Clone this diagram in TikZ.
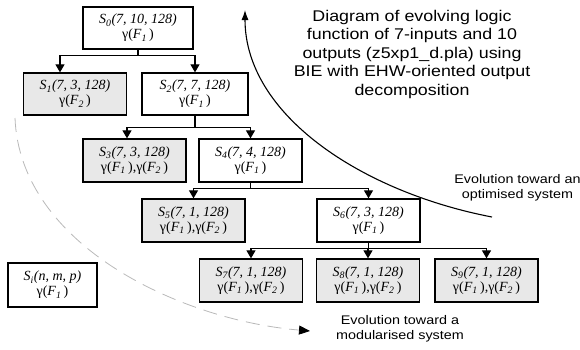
\documentclass[tikz,border=0pt]{standalone}
\usepackage{fontspec}
\setmainfont{Liberation Serif}
\newfontfamily\capfont{Liberation Sans}[FakeStretch=1.15]
\usetikzlibrary{arrows.meta}
\tikzset{
   sbox/.style={draw=black, line width=1.3pt, minimum width=103pt, minimum height=43pt,
      inner sep=0pt, align=center, font=\fontsize{14}{15}\selectfont},
   modbox/.style={sbox, fill=gray!18},
   branch/.style={draw=black, line width=1.2pt, -{Triangle[length=8pt,width=9pt]}},
   trend/.style={draw=black, line width=1.1pt, -{Latex[length=10pt,width=7pt]}},
   modular/.style={draw=gray!55, line width=0.8pt, dash pattern=on 14pt off 8pt,
      -{Triangle[length=11pt,width=9pt,black]}},
   caption/.style={align=center, font=\capfont\fontsize{15.5}{18.5}\selectfont},
   remark/.style={align=center, font=\capfont\fontsize{12.5}{15}\selectfont},
}
\newcommand{\stt}[2]{\textit{S\textsubscript{#1}(#2)}}
\newcommand{\gF}[1]{γ(\textit{F\textsubscript{#1}}\,)}

\begin{document}
\begin{tikzpicture}[x=1pt, y=-1pt]
            \useasboundingbox (0,0) rectangle (580,349);
            \node[sbox, minimum width=110pt, minimum height=42pt] (S0) at (138,28) {\stt{0}{7, 10, 128}\\\gF{1}};
            \node[modbox, minimum height=42pt] (S1) at (75,94) {\stt{1}{7, 3, 128}\\\gF{2}};
            \node[sbox, minimum width=106pt, minimum height=42pt] (S2) at (195,94) {\stt{2}{7, 7, 128}\\\gF{1}};
            \node[modbox] (S3) at (134.5,160.5) {\stt{3}{7, 3, 128}\\\gF{1},\gF{2}};
            \node[sbox] (S4) at (250.5,160.5) {\stt{4}{7, 4, 128}\\\gF{1}};
            \node[modbox] (S5) at (193.5,220.5) {\stt{5}{7, 1, 128}\\\gF{1},\gF{2}};
            \node[sbox] (S6) at (368.5,220.5) {\stt{6}{7, 3, 128}\\\gF{1}};
            \node[modbox] (S7) at (251,280.5) {\stt{7}{7, 1, 128}\\\gF{1},\gF{2}};
            \node[modbox] (S8) at (368,280.5) {\stt{8}{7, 1, 128}\\\gF{1},\gF{2}};
            \node[modbox] (S9) at (486.5,280.5) {\stt{9}{7, 1, 128}\\\gF{1},\gF{2}};
            \node[sbox, minimum width=89pt, minimum height=44pt] (Si) at (52.5,285) {\stt{i}{n, m, p}\\\gF{1}};
            \draw[branch] (S0.south) -- ++(0,6) -| ([xshift=-15pt]S1.north);
            \draw[branch] (S0.south) -- ++(0,6) -| (S2.north);
            \draw[branch] (S2.south) -- ++(0,12) -| ([xshift=-7.5pt]S3.north);
            \draw[branch] (S2.south) -- ++(0,12) -| (S4.north);
            \draw[branch] (S4.south) -- ++(0,6) -| (S5.north);
            \draw[branch] (S4.south) -- ++(0,6) -| (S6.north);
            \draw[branch] (S6.south) -- ++(0,6) -| (S7.north);
            \draw[branch] (S6.south) -- ++(0,6) -| (S8.north);
            \draw[branch] (S6.south) -- ++(0,6) -| (S9.north);
            \coordinate (optEnd) at (492,217);
            \coordinate (optTip) at (245,10);
            \draw[trend] (optEnd) .. controls (362,192) and (245,115) .. (optTip);
            \coordinate (modStart) at (15,118);
            \coordinate (modTip) at (310,331);
            \draw[modular] (modStart) .. controls (20,245) and (180,320) .. (modTip);
            \node[caption] (title) at (412,54) {Diagram of evolving logic\\function of 7-inputs and 10\\outputs (z5xp1\_d.pla) using\\BIE with EHW-oriented output\\decomposition};
            \node[remark] (optnote) at (517.5,187.5) {Evolution toward an\\optimised system};
            \node[remark] (modnote) at (400,328.5) {Evolution toward a\\modularised system};
        \end{tikzpicture}
\end{document}
